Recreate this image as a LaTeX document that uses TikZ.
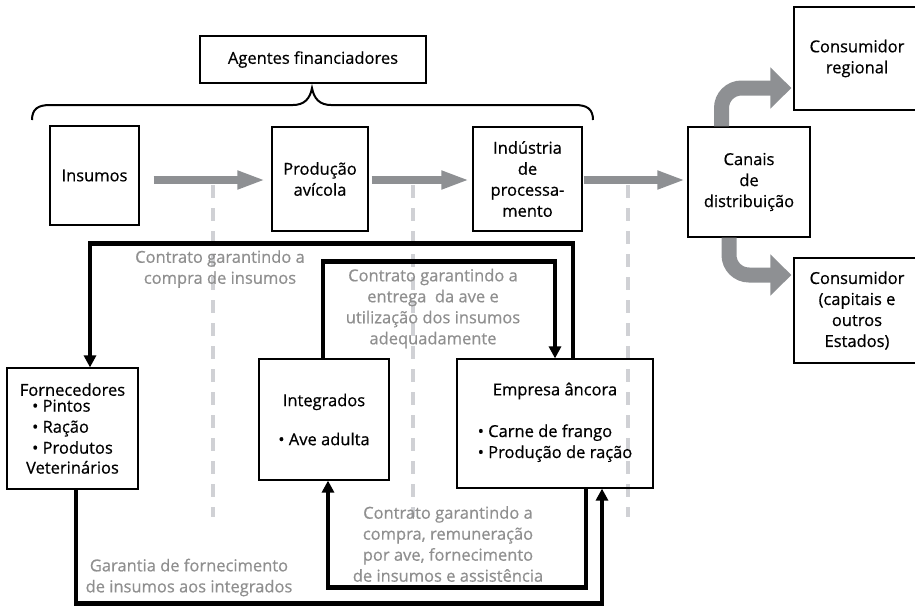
\documentclass[tikz,border=0pt]{standalone}
\usepackage{fontspec}
\setmainfont{Open Sans}[FakeBold=0.6]
\usetikzlibrary{arrows.meta}
\definecolor{arrgray}{HTML}{8E9093}
\definecolor{txtgray}{HTML}{8F8F8F}
\definecolor{dashgray}{HTML}{D0D1D5}
\newcommand\mysize{\fontsize{16.5}{21}\selectfont}
\begin{document}
\begin{tikzpicture}[x=1pt,y=-1pt,
  box/.style={draw=black, line width=1.2pt, inner sep=0pt, align=center, font=\mysize},
  note/.style={text=txtgray, align=center, font=\mysize, inner sep=0pt},
  dashl/.style={draw=dashgray, line width=4pt, dash pattern=on 13pt off 10pt},
  garrow/.style={draw=arrgray, line width=8pt, -{Triangle[width=17pt,length=28pt]}},
  carrow/.style={draw=arrgray, line width=15pt, rounded corners=20pt, -{Triangle[width=40pt,length=21pt]}},
  conn/.style={draw=black, line width=4.5pt, line join=miter},
  connarr/.style={conn, -{Triangle[width=12pt,length=12pt]}},
  brace/.style={draw=black, line width=2pt}
]
\useasboundingbox (0,0) rectangle (915,606);
\clip (0,0) rectangle (915,606);

% dashed separators
\draw[dashl] (213,185) -- (213,517);
\draw[dashl] (413,185) -- (413,517);
\draw[dashl] (628,185) -- (628,517);

% boxes
\node[box, minimum width=226, minimum height=47] (agen) at (313,59.5) {Agentes financiadores};
\node[box, minimum width=89, minimum height=99] (ins) at (94.5,175.5) {Insumos};
\node[box, minimum width=96, minimum height=104] (prod) at (320,179) {Produção\\avícola};
\node[box, minimum width=109, minimum height=104] (ind) at (527.5,179) {Indústria\\de\\processa-\\mento};
\node[box, minimum width=122, minimum height=110] (can) at (749,182) {Canais\\de\\distribuição};
\node[box, minimum width=126, minimum height=103] (creg) at (857,58.5) {Consumidor\\regional};
\node[box, minimum width=126, minimum height=105] (ccap) at (857,310.5) {Consumidor\\(capitais e\\outros\\Estados)};
\node[box, minimum width=131, minimum height=121] (forn) at (72.5,428.5)
  {Fornecedores\\\begin{tabular}{@{}l@{}}• Pintos\\• Ração\\• Produtos\end{tabular}\\Veterinários};
\node[box, minimum width=130, minimum height=121] (integ) at (324,419.5) {Integrados\\[18pt]• Ave adulta};
\node[box, minimum width=196, minimum height=129] (emp) at (555,423.5)
  {Empresa âncora\\[22pt]\begin{tabular}{@{}l@{}}• Carne de frango\\• Produção de ração\end{tabular}};

% brace
\draw[brace] (32,120) .. controls (32,109) and (38,105) .. (50,105) -- (293,105)
  .. controls (304,105) and (310,99) .. (312,88)
  .. controls (314,99) and (320,105) .. (331,105) -- (575,105)
  .. controls (587,105) and (593,109) .. (593,120);

% gray flow arrows
\draw[garrow, shorten <=14pt, shorten >=6pt] (ins.east |- 0,180) -- (prod.west |- 0,180);
\draw[garrow, shorten <=3pt, shorten >=3pt] (prod.east |- 0,180) -- (ind.west |- 0,180);
\draw[garrow, shorten <=1pt, shorten >=2pt] (ind.east |- 0,180) -- (can.west |- 0,180);
\draw[carrow] ([xshift=-27.5pt]can.north) |- ([shift={(-2pt,-29.5pt)}]creg.west);
\draw[carrow] ([xshift=-20pt]can.south) |- ([shift={(-2pt,35.5pt)}]ccap.west);

% black contract lines
\draw[connarr] ([xshift=18pt]emp.north) -- ++(0,-115) -| ([xshift=17.5pt]forn.north);
\draw[connarr] ([xshift=-1pt]integ.north) -- ++(0,-97) -| (emp.north);
\draw[connarr] ([xshift=3.5pt]forn.south) -- ++(0,114) -| ([xshift=47pt]emp.south);
\draw[connarr] ([xshift=31pt]emp.south) -- ++(0,99) -| ([xshift=4pt]integ.south);

% gray notes
\node[note] (n1) at (220,269) {Contrato garantindo a\\compra de insumos};
\node[note] (n2) at (433,308.5) {Contrato garantindo a\\entrega\ \ da ave e\\utilização dos insumos\\adequadamente};
\node[note] (n3) at (448,544) {Contrato garantindo a\\compra, remuneração\\por ave, fornecimento\\de insumos e assistência};
\node[note] (n4) at (189,577.5) {Garantia de fornecimento\\de insumos aos integrados};
\end{tikzpicture}
\end{document}
